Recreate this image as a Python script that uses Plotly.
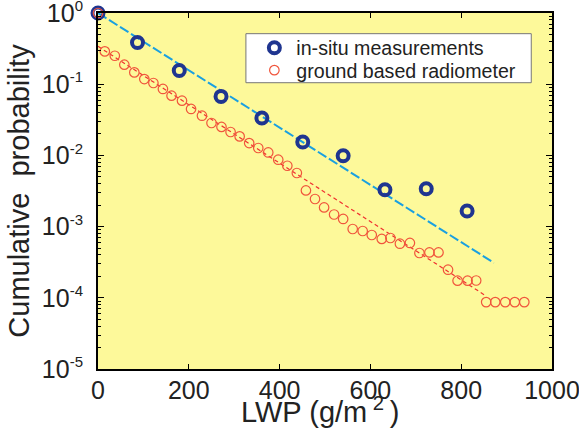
import plotly.graph_objects as go

# ---- data ----
insitu_x = [0, 87, 179, 271, 361, 451, 540, 632, 723, 813]
insitu_y = [1.0, 0.386, 0.156, 0.0674, 0.0335, 0.0154, 0.0099, 0.0033, 0.0034, 0.00166]

radio_x = [0, 15, 37, 58, 80, 102, 122, 143, 162, 185, 205, 229, 250, 272, 292, 312,
           333, 353, 375, 397, 417, 438, 458, 478, 498, 520, 540, 561, 583, 603, 625,
           644, 665, 687, 708, 730, 750, 771, 792, 814, 833, 855, 875, 897, 918, 939]
radio_y = [1.0, 0.289, 0.251, 0.188, 0.1465, 0.118, 0.104, 0.0857, 0.069, 0.0587,
           0.0449, 0.0361, 0.0285, 0.0251, 0.0213, 0.0185, 0.0149, 0.0127, 0.0110,
           0.0087, 0.00716, 0.00566, 0.00322, 0.00244, 0.00186, 0.00148, 0.00128,
           0.000925, 0.000867, 0.000762, 0.000671, 0.000692, 0.000575, 0.000589,
           0.000426, 0.000434, 0.000434, 0.000248, 0.000174, 0.000174, 0.000175,
           0.000087, 0.000087, 0.000087, 0.000087, 0.000087]

insitu_fit_x = [0, 872]
insitu_fit_y = [1.0, 3.1e-4]
radio_fit_x = [0, 856]
radio_fit_y = [0.34, 1.05e-4]

x_ticks = [0, 200, 400, 600, 800, 1000]
y_ticks = [1, 1e-1, 1e-2, 1e-3, 1e-4, 1e-5]
y_exponents = ["0", "-1", "-2", "-3", "-4", "-5"]
y_ticktext = ['10<sup><span style="font-size:15px">%s</span></sup>' % e for e in y_exponents]

minor_y = [m * 10.0 ** e for e in range(-5, 0) for m in range(2, 10)]

FONT = "Liberation Sans, Arial, sans-serif"
TXT = "#222222"

fig = go.Figure()
fig.add_trace(go.Scatter(x=insitu_fit_x, y=insitu_fit_y, mode="lines",
                         line=dict(color="#1aa0e0", width=2, dash="10px,3px"),
                         showlegend=False, hoverinfo="skip"))
fig.add_trace(go.Scatter(x=radio_fit_x, y=radio_fit_y, mode="lines",
                         line=dict(color="#f03030", width=1.2, dash="4px,3px"),
                         showlegend=False, hoverinfo="skip"))
fig.add_trace(go.Scatter(x=insitu_x, y=insitu_y, mode="markers",
                         name="in-situ measurements", cliponaxis=False, legend="legend",
                         marker=dict(symbol="circle-open", size=11, color="#1f3590",
                                     line=dict(width=4, color="#1f3590"))))
fig.add_trace(go.Scatter(x=radio_x, y=radio_y, mode="markers",
                         name="ground based radiometer", cliponaxis=False, legend="legend2",
                         marker=dict(symbol="circle-open", size=9.5, color="#f0553c",
                                     line=dict(width=1.2, color="#f0553c"))))

leg_common = dict(xanchor="left", yanchor="middle", bgcolor="rgba(0,0,0,0)",
                  borderwidth=0, itemwidth=34,
                  font=dict(size=19.6, family=FONT, color=TXT))

fig.update_layout(
    width=579, height=434,
    margin=dict(l=98, r=27, t=13, b=65, autoexpand=False),
    paper_bgcolor="white",
    plot_bgcolor="#fdf99a",
    font=dict(family=FONT, color=TXT),
    legend=dict(x=0.3400, y=0.9017, **leg_common),
    legend2=dict(x=0.3400, y=0.8388, **leg_common),
    shapes=[dict(type="rect", xref="paper", yref="paper",
                 x0=0.3258, x1=0.9543, y0=0.8042, y1=0.9419,
                 fillcolor="white", line=dict(color="#777777", width=1), layer="below")],
    annotations=[dict(text="LWP (g/m<sup> 2 </sup>)", xref="paper", yref="paper",
                      x=0.49, y=-0.116, xanchor="center", yanchor="middle",
                      showarrow=False, font=dict(size=29, family=FONT, color=TXT))],
)
fig.update_xaxes(
    range=[0, 1000], tickvals=x_ticks, ticks="inside", ticklen=5,
    tickcolor="black", showline=True, linecolor="black", linewidth=2,
    mirror="ticks", showgrid=False, zeroline=False, automargin=False,
    ticklabeloverflow="allow", ticklabelstandoff=-2,
    tickfont=dict(size=25, family=FONT, color=TXT),
)
fig.update_yaxes(
    type="log", range=[-5, 0], tickvals=y_ticks, ticktext=y_ticktext,
    ticks="inside", ticklen=6, tickcolor="black", showline=True,
    linecolor="black", linewidth=2, mirror="allticks", showgrid=False,
    zeroline=False, ticklabelstandoff=8, ticklabeloverflow="allow", automargin=False,
    minor=dict(tickvals=minor_y, ticks="inside", ticklen=3, tickcolor="black"),
    tickfont=dict(size=25, family=FONT, color=TXT),
    title=dict(text="Cumulative\u00a0 probability", font=dict(size=29, family=FONT, color=TXT),
               standoff=4),
)

fig.write_html("out.html")
